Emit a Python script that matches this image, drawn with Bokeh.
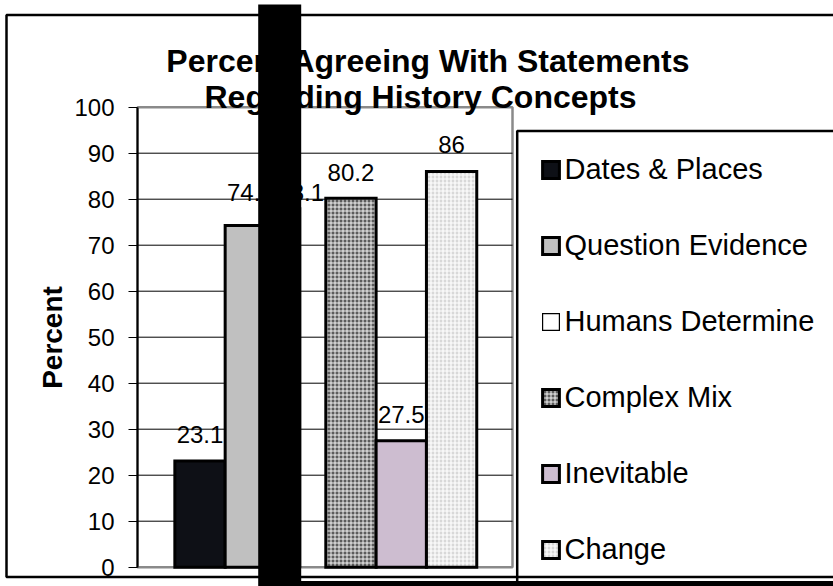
from bokeh.plotting import figure
from bokeh.models import (Range1d, FixedTicker, LabelSet, ColumnDataSource,
                          BoxAnnotation, Legend, LegendItem, Label)
from bokeh.core.properties import value
from bokeh.embed import file_html
from bokeh.resources import INLINE

# ---------------- data ----------------
categories = ["Dates & Places", "Question Evidence", "Humans Determine",
              "Complex Mix", "Inevitable", "Change"]
values = [23.1, 74.3, 78.1, 80.2, 27.5, 86.0]
value_labels = ["23.1", "74.3", "78.1", "80.2", "27.5", "86"]
y_ticks = [0, 10, 20, 30, 40, 50, 60, 70, 80, 90, 100]
title_lines = ["Percent Agreeing With Statements", "Regarding History Concepts"]

# ---------------- layout / style (pixels) ----------------
W, H = 833, 586
PL, PR, PT, PB = 137, 512, 106.7, 566.7     # plot area edges
SLOT = 50.32                                # bar slot width in px
X0 = 199.5                                  # px centre of the first bar
FONT = "Liberation Sans"
label_offsets = [26, 33, 15, 26, 26, 27]
title_pos = [(428, 60), (420, 96)]          # (centre x, baseline y) per line

styles = [
    dict(fill_color="#0e1016", line_width=3),
    dict(fill_color="#c0c0c0", line_width=3),
    dict(fill_color="white", line_width=1.2),
    dict(fill_color="#5c5c5c", hatch_pattern="+", hatch_color="white",
         hatch_scale=4, hatch_weight=1, hatch_alpha=0.9, line_width=3),
    dict(fill_color="#cdbdd0", line_width=3),
    dict(fill_color="#d8d8d8", hatch_pattern="+", hatch_color="white",
         hatch_scale=4, hatch_weight=1.2, line_width=3),
]

YPX = (PB - PT) / 100.0

def xd(px):           # pixel -> data x
    return (px - X0) / SLOT

def up(py):           # canvas y (down) -> screen units (up from bottom)
    return H - py

p = figure(width=W, height=H,
           x_range=Range1d(xd(0), xd(W)),
           y_range=Range1d(-(H - PB) / YPX, PB / YPX),
           output_backend="svg", toolbar_location=None,
           x_axis_location=None, min_border=0,
           min_border_left=0, min_border_right=0,
           min_border_top=0, min_border_bottom=0)
p.title.visible = False
p.outline_line_color = None
p.xgrid.visible = False
p.ygrid.visible = False

# plot-area border
p.add_layout(BoxAnnotation(left=xd(PL), right=xd(PR), bottom=0, top=100,
                           fill_alpha=0, line_color="#8a8a8a", line_alpha=1,
                           line_width=2.5, level="underlay"))
# grid lines
grid_y = y_ticks[1:-1]
p.segment(x0=[xd(PL)] * len(grid_y), x1=[xd(PR)] * len(grid_y),
          y0=grid_y, y1=grid_y, line_color="black", line_width=1)

renderers = []
for i, (cat, v) in enumerate(zip(categories, values)):
    width = 1.0
    xc = i
    if cat == "Humans Determine":
        width = 0.5
        xc = i - 0.25
    r = p.vbar(x=[xc], top=[v], bottom=0, width=width, line_color="black",
               line_join="miter", **styles[i])
    renderers.append(r)

src = ColumnDataSource(dict(x=list(range(len(values))), y=values,
                            text=value_labels, off=label_offsets))
p.add_layout(LabelSet(x="x", y="y", text="text", y_offset="off", source=src,
                      text_align="center", text_baseline="middle",
                      text_font_size="24px", text_font=value(FONT),
                      text_color="black"))

# y axis
ax = p.yaxis[0]
ax.fixed_location = xd(PL)
ax.bounds = (0, 100)
ax.ticker = FixedTicker(ticks=y_ticks)
ax.major_label_text_font_size = "24px"
ax.major_label_text_font = FONT
ax.major_label_text_color = "black"
ax.major_tick_out = 9
ax.major_tick_in = 0
ax.minor_tick_line_color = None
ax.axis_line_width = 2
ax.axis_line_color = "black"
ax.major_tick_line_color = "black"
ax.major_tick_line_width = 1.2
ax.major_label_standoff = 14
ax.axis_label = "Percent"
ax.axis_label_text_font = FONT
ax.axis_label_text_font_size = "28px"
ax.axis_label_text_font_style = "bold"
ax.axis_label_text_color = "black"
ax.axis_label_standoff = 3

# title (two centred lines)
for line, (cx, base) in zip(title_lines, title_pos):
    p.add_layout(Label(x=cx, y=up(base), x_units="screen", y_units="screen",
                       text=line, text_align="center",
                       text_baseline="alphabetic", text_font=FONT,
                       text_font_size="32px", text_font_style="bold",
                       text_color="black"))

# frames
def screen_box(l, r, t, b, **kw):
    return BoxAnnotation(left=l, right=r, top=up(t), bottom=up(b),
                         left_units="screen", right_units="screen",
                         top_units="screen", bottom_units="screen", **kw)

p.add_layout(screen_box(6, 900, 14.5, 576.5, fill_alpha=0,
                        line_color="black", line_alpha=1, line_width=2.5))
p.add_layout(screen_box(516.7, 900, 130.5, 582, fill_alpha=0,
                        line_color="black", line_alpha=1, line_width=2.5))
p.add_layout(screen_box(300, 900, 580.5, 600, fill_color="black",
                        fill_alpha=1, line_alpha=0))

# legend
legend = Legend(items=[LegendItem(label=c, renderers=[r])
                       for c, r in zip(categories, renderers)],
                location=(539.5, up(565.5)), orientation="vertical",
                glyph_width=21, glyph_height=21, label_standoff=4,
                label_text_font=FONT, label_text_font_size="29px",
                label_text_color="black", spacing=43, padding=0, margin=0,
                border_line_alpha=0, background_fill_alpha=0)
p.add_layout(legend, "center")

# occluding block
p.add_layout(screen_box(257.7, 300.7, 4, 600, fill_color="black",
                        fill_alpha=1, line_alpha=0, level="overlay"))

open("out.html", "w").write(file_html(p, INLINE))
